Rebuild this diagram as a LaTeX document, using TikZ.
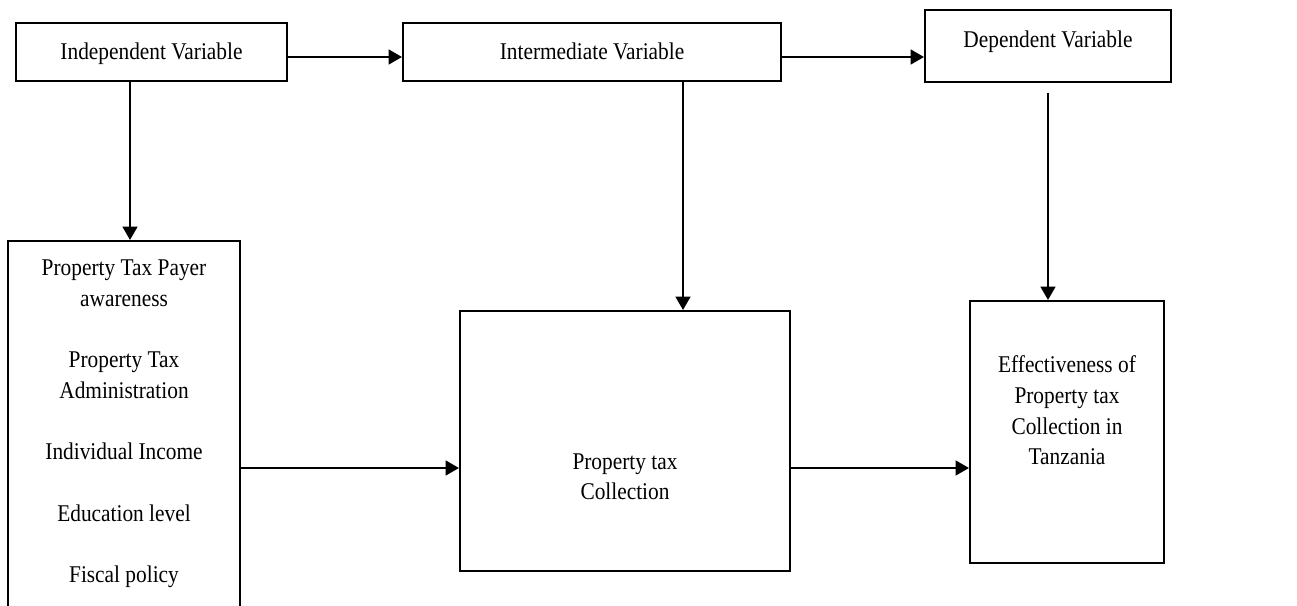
\documentclass[tikz,border=0pt]{standalone}
\usepackage{fontspec}
\setmainfont{Liberation Serif}[FakeStretch=0.89]
\usetikzlibrary{arrows.meta,positioning}
\tikzset{var box/.style={draw,line width=1.5pt,inner sep=0pt,anchor=north west,font=\fontsize{18}{23}\selectfont},
         flow/.style={->,line width=1.8pt}
}
\newcommand{\boxlines}[1]{\begin{tabular}[t]{@{}c@{}}#1\end{tabular}}

\begin{document}
\begin{tikzpicture}[x=0.75pt,y=-0.75pt,>={Triangle[length=10pt,width=11pt]}]
    \useasboundingbox (0,0) rectangle (1297,606);

    % top row
    \node [var box,minimum width=203.25pt,text height=27.75pt,text depth=15.75pt] (indep) at (15,22) {Independent Variable};
    \node [var box,minimum width=283.5pt,text height=27.75pt,text depth=15.75pt] (inter) at (402,22) {Intermediate Variable};
    \node [var box,minimum width=184.5pt,text height=28.5pt,text depth=25.5pt] (dep) at (924,9) {Dependent Variable};

    % bottom row
    \node [var box,minimum width=174pt,text height=26.25pt,text depth=318.75pt] (factors) at (7,240)
        {\boxlines{Property Tax Payer\\awareness\\ \\Property Tax\\Administration\\ \\Individual Income\\ \\Education level\\ \\Fiscal policy}};
    \node [var box,minimum width=247.5pt,text height=118.5pt,text depth=76.5pt] (collect) at (459,310)
        {\boxlines{Property tax\\Collection}};
    \node [var box,minimum width=145.5pt,text height=54pt,text depth=142.5pt] (effect) at (969,300)
        {\boxlines{Effectiveness of\\Property tax\\Collection in\\Tanzania}};

    \coordinate (top row) at (0,57);
    \coordinate (mid row) at (0,468);
    \coordinate (indep col) at (130,0);
    \coordinate (inter col) at (683,0);

    \draw [flow] (indep.east |- top row) -- (inter.west |- top row);
    \draw [flow] (inter.east |- top row) -- (dep.west |- top row);
    \draw [flow] (indep.south -| indep col) -- (factors.north -| indep col);
    \draw [flow] (inter.south -| inter col) -- (collect.north -| inter col);
    \draw [flow] ([yshift=-7.5pt]dep.south) -- (effect.north -| dep.south);
    \draw [flow] (factors.east |- mid row) -- (collect.west |- mid row);
    \draw [flow] (collect.east |- mid row) -- (effect.west |- mid row);

\end{tikzpicture}
\end{document}
